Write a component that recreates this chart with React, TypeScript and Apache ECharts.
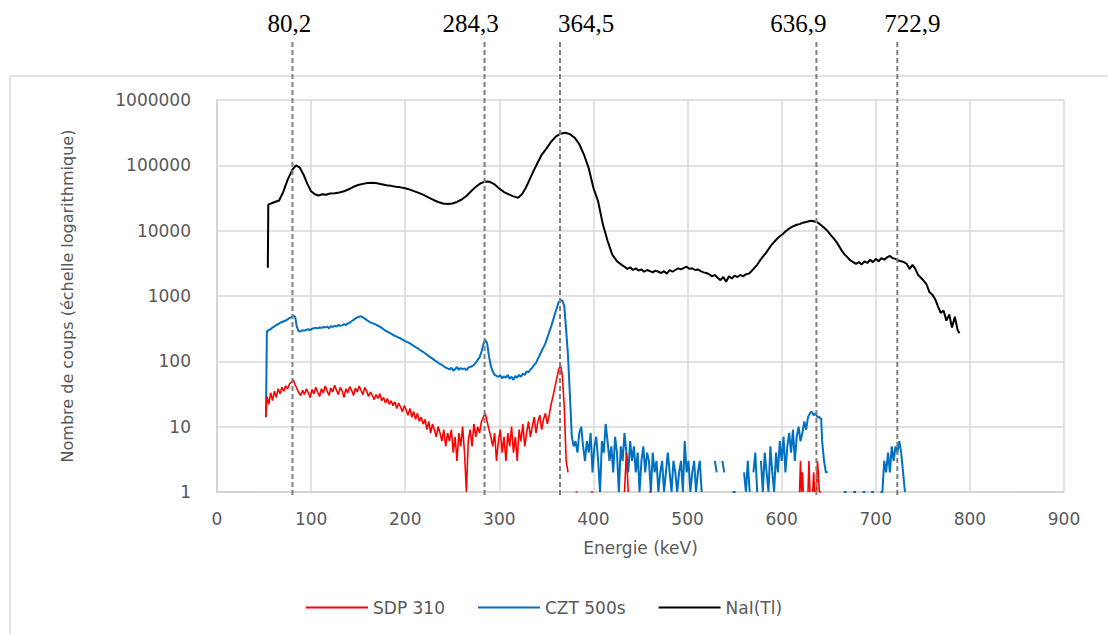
import React, { useEffect, useRef } from "react";
import * as echarts from "echarts";

type Pt = [number, number | null];

// NaI(Tl) spectrum: [energy keV, counts]
const NAI: Pt[] = [
  [54, 2700], [54.5, 25000], [60, 27000], [66, 29000], [70, 38000], [75, 60000], [80, 85000], [84, 100000],
  [88, 92000], [92, 72000], [96, 52000], [100, 40000], [104, 36000], [108, 34500], [112, 36000], [116, 35500],
  [120, 37000], [125, 37500], [130, 38500], [135, 40000], [140, 43000], [145, 47000], [150, 50000], [155, 52000],
  [160, 53500], [165, 54000], [170, 53000], [175, 51500], [180, 49500], [185, 48500], [190, 47000], [195, 46000],
  [200, 44500], [205, 42500], [210, 40000], [215, 37500], [220, 35000], [225, 32000], [230, 29500], [235, 27500],
  [240, 26000], [245, 25500], [250, 26000], [255, 27500], [260, 30000], [265, 34000], [270, 40000], [275, 47000],
  [280, 53000], [285, 56500], [290, 56000], [295, 51000], [300, 44000], [305, 39000], [310, 36000], [315, 33500],
  [320, 32000], [324, 36000], [328, 45000], [332, 60000], [336, 80000], [340, 105000], [345, 145000], [350, 180000],
  [355, 230000], [360, 275000], [365, 305000], [370, 315000], [375, 300000], [380, 265000], [385, 210000],
  [390, 145000], [395, 90000], [400, 45000], [405, 28000], [410, 12500], [415, 7000], [420, 4300], [425, 3400],
  [430, 3000], [433, 2800], [436, 2600], [439, 2750], [442, 2500], [445, 2650], [448, 2450], [451, 2550],
  [454, 2350], [457, 2500], [460, 2400], [463, 2300], [466, 2450], [469, 2350], [472, 2250], [475, 2400],
  [478, 2200], [481, 2500], [484, 2350], [487, 2500], [490, 2650], [493, 2550], [496, 2700], [499, 2800],
  [502, 2600], [505, 2650], [508, 2500], [511, 2550], [514, 2400], [517, 2300], [520, 2250], [523, 2150],
  [526, 2000], [529, 2100], [532, 1900], [535, 1750], [538, 1950], [541, 1650], [544, 2000], [547, 1850],
  [550, 2050], [553, 1950], [556, 2100], [559, 2000], [562, 2150], [565, 2200], [568, 2400], [571, 2700],
  [574, 3000], [577, 3500], [580, 4000], [583, 4500], [586, 5200], [589, 6000], [592, 6700], [595, 7500],
  [598, 8200], [601, 8800], [604, 9700], [607, 10500], [610, 11200], [613, 11800], [616, 12300], [619, 12600],
  [622, 13200], [625, 13500], [628, 13800], [631, 14200], [634, 13900], [637, 13600], [640, 12800], [643, 11800],
  [646, 10800], [649, 9800], [652, 8600], [655, 7700], [658, 6800], [661, 5800], [664, 4900], [667, 4300],
  [670, 3900], [673, 3500], [676, 3300], [679, 3100], [682, 3300], [685, 3050], [688, 3400], [691, 3200],
  [694, 3600], [697, 3300], [700, 3700], [703, 3400], [706, 3800], [709, 3600], [712, 3900], [715, 4100],
  [718, 3800], [721, 3700], [724, 3500], [727, 3400], [730, 3300], [733, 3100], [736, 2600], [739, 3000],
  [742, 2600], [745, 2100], [748, 1900], [751, 1700], [754, 1500], [757, 1150], [760, 1050], [763, 900],
  [766, 700], [769, 550], [772, 600], [775, 420], [778, 520], [781, 330], [784, 480], [787, 300], [789, 270],
];

// CZT 500s spectrum
const CZT: Pt[] = [
  [52, 14], [53, 285], [55, 300], [57, 310], [59, 330], [61, 340], [63, 360], [65, 370], [67, 390], [69, 400],
  [71, 410], [73, 420], [75, 440], [77, 460], [79, 470], [81, 500], [83, 480], [85, 330], [87, 285], [89, 290],
  [91, 300], [93, 295], [95, 305], [97, 310], [99, 300], [101, 315], [103, 320], [105, 325], [107, 320],
  [109, 330], [111, 325], [113, 335], [115, 330], [117, 340], [119, 320], [121, 345], [123, 335], [125, 350],
  [127, 340], [129, 360], [131, 350], [133, 355], [135, 370], [137, 360], [139, 380], [141, 390], [143, 410],
  [145, 430], [147, 450], [149, 470], [151, 480], [153, 490], [155, 470], [157, 450], [159, 430], [161, 410],
  [163, 395], [165, 385], [167, 375], [169, 365], [171, 350], [173, 340], [175, 325], [177, 310], [179, 295],
  [181, 285], [183, 275], [185, 265], [187, 255], [189, 245], [191, 240], [193, 230], [195, 225], [197, 215],
  [199, 208], [201, 200], [203, 195], [205, 188], [207, 180], [209, 172], [211, 165], [213, 160], [215, 152],
  [217, 145], [219, 140], [221, 133], [223, 127], [225, 120], [227, 115], [229, 110], [231, 104], [233, 100],
  [235, 95], [237, 91], [239, 88], [241, 84], [243, 80], [245, 78], [247, 75], [249, 80], [251, 72], [253, 76],
  [255, 82], [257, 74], [259, 79], [261, 76], [263, 78], [265, 73], [267, 80], [269, 82], [271, 84], [273, 88],
  [275, 95], [277, 105], [279, 115], [281, 140], [283, 180], [285, 215], [287, 190], [289, 120], [291, 85],
  [293, 70], [295, 62], [297, 60], [299, 58], [301, 61], [303, 55], [305, 59], [307, 56], [309, 62], [311, 54],
  [313, 58], [315, 52], [317, 60], [319, 56], [321, 62], [323, 58], [325, 65], [327, 62], [329, 70], [331, 68],
  [333, 75], [335, 80], [337, 88], [339, 95], [341, 110], [343, 125], [345, 145], [347, 165], [349, 190],
  [351, 230], [353, 280], [355, 340], [357, 420], [359, 530], [361, 650], [363, 800], [365, 870], [367, 850],
  [369, 700], [371, 300], [373, 120], [375, 30], [377, 7], [379, 5], [381, 6], [383, 4], [385, 8], [387, 10],
  [389, 5], [391, 3], [393, 6], [395, 4], [397, 8], [399, 2], [401, 5], [403, 7], [405, 3], [407, 1], [409, 6],
  [411, 4], [413, 11], [415, 6], [417, 3], [419, 5], [421, 2], [423, 7], [425, 4], [427, 1], [429, 5], [431, 3],
  [433, 8], [435, 4], [437, 2], [439, 6], [441, 3], [443, 5], [445, 2], [447, 4], [449, 1], [451, 3], [453, 5],
  [455, 2], [457, 4], [459, 3], [461, 1], [463, 4], [465, 2], [467, 3], [469, 1], [471, 2], [473, 3], [475, 1],
  [477, 2], [479, 4], [481, 2], [483, 1], [485, 3], [487, 2], [489, 1], [491, 2], [493, 3], [495, 1], [497, 6],
  [499, 2], [501, 3], [503, 1], [505, 2], [507, 3], [509, 1], [511, 2], [513, 3], [515, 1], [517, null],
  [529, 3], [531, 2], [533, null], [537, 3], [539, 2], [541, null], [548, 1], [551, 1], [552, null],
  [560, 2], [562, 1], [564, 3], [566, 1], [568, null], [570, 2], [572, 4], [574, 1], [576, null], [578, 3],
  [580, 1], [582, 4], [584, 2], [586, 1], [588, 5], [590, 2], [592, 1], [594, 4], [596, 2], [598, 6], [600, 3],
  [602, 7], [604, 2], [606, 5], [608, 8], [610, 4], [612, 9], [614, 3], [616, 7], [618, 10], [620, 6], [622, 8],
  [624, 12], [626, 9], [628, 14], [630, 16], [632, 17], [634, 15], [636, 16], [638, 14], [640, 14], [642, 13],
  [643, 6], [645, 3], [647, 2], [649, 2], [650, null], [666, 1], [669, 1], [670, null], [676, 1], [679, 1],
  [680, null], [686, 1], [689, 1], [690, null], [695, 1], [698, 1], [699, null], [705, 1], [707, 1], [709, 3],
  [711, 2], [713, 4], [715, 2], [717, 5], [719, 3], [721, 5], [723, 4], [725, 6], [727, 4], [729, 2], [731, 1],
];

// SDP 310 spectrum
const SDP: Pt[] = [
  [52, 14], [53, 29], [55, 22], [57, 33], [59, 25], [61, 35], [63, 28], [65, 38], [67, 32], [69, 40], [71, 35],
  [73, 42], [75, 38], [77, 45], [79, 48], [81, 52], [83, 44], [85, 38], [87, 33], [89, 30], [91, 36], [93, 31],
  [95, 38], [97, 33], [99, 28], [101, 37], [103, 32], [105, 40], [107, 34], [109, 29], [111, 38], [113, 33],
  [115, 42], [117, 35], [119, 30], [121, 39], [123, 34], [125, 43], [127, 36], [129, 31], [131, 40], [133, 35],
  [135, 28], [137, 38], [139, 33], [141, 41], [143, 36], [145, 30], [147, 39], [149, 34], [151, 42], [153, 36],
  [155, 31], [157, 40], [159, 35], [161, 29], [163, 34], [165, 30], [167, 26], [169, 31], [171, 27], [173, 32],
  [175, 25], [177, 28], [179, 23], [181, 27], [183, 22], [185, 25], [187, 21], [189, 24], [191, 19], [193, 23],
  [195, 20], [197, 17], [199, 21], [201, 18], [203, 15], [205, 19], [207, 14], [209, 17], [211, 13], [213, 16],
  [215, 12], [217, 14], [219, 11], [221, 13], [223, 9], [225, 12], [227, 8], [229, 11], [231, 9], [233, 7],
  [235, 10], [237, 8], [239, 6], [241, 9], [243, 5], [245, 8], [247, 6], [249, 9], [251, 4], [253, 7], [255, 3],
  [257, 8], [259, 5], [261, 10], [263, 4], [265, 1], [267, 6], [269, 9], [271, 5], [273, 11], [275, 7], [277, 10],
  [279, 8], [281, 12], [283, 14], [285, 16], [287, 12], [289, 9], [291, 7], [293, 5], [295, 8], [297, 3], [299, 6],
  [301, 9], [303, 4], [305, 7], [307, 3], [309, 8], [311, 5], [313, 10], [315, 4], [317, 7], [319, 3], [321, 9],
  [323, 6], [325, 11], [327, 5], [329, 8], [331, 12], [333, 7], [335, 10], [337, 14], [339, 8], [341, 12],
  [343, 15], [345, 9], [347, 13], [349, 16], [351, 11], [353, 15], [355, 22], [357, 29], [359, 40], [361, 55],
  [363, 75], [365, 88], [367, 60], [369, 20], [371, 3], [373, 2], [374, null], [381, 1], [383, 1], [384, null],
  [397, 1], [400, 1], [401, null], [433, 1], [435, 4], [437, 1], [438, null], [459, 1], [462, 1], [463, null],
  [619, 1], [620, 3], [621, 1], [622, 2], [623, 1], [624, null], [628, 1], [629, 3], [630, 1], [631, null],
  [633, 1], [634, 2], [635, 1], [636, null], [637, 1], [638, 3], [639, 2], [640, 1], [642, 1],
];

const PEAKS = [80.2, 284.3, 364.5, 636.9, 722.9];
const PEAK_LABELS = ["80,2", "284,3", "364,5", "636,9", "722,9"];
const LABEL_SHIFT = [-3, -14, 26, -18, 15];

const SERIES_NAMES = ["SDP 310", "CZT 500s", "NaI(Tl)"];
const SERIES_COLORS = ["#ff0000", "#0070c0", "#000000"];
const X_TICKS = { min: 0, max: 900, interval: 100 };
const Y_RANGE = { min: 1, max: 1000000 };

const toData = (arr: Pt[]) => arr.map(([x, y]) => (y === null ? [x, "-"] : [x, y]));

const FONT = "DejaVu Sans";
const GRAY = "#595959";

export default function App() {
  const ref = useRef<HTMLDivElement>(null);
  useEffect(() => {
    if (!ref.current) return;
    const chart = echarts.init(ref.current, undefined, { renderer: "svg" });
    const datasets = [SDP, CZT, NAI];
    chart.setOption({
      animation: false,
      backgroundColor: "#ffffff",
      grid: { left: 217, right: 44, top: 100, bottom: 142 },
      xAxis: {
        type: "value",
        min: X_TICKS.min,
        max: X_TICKS.max,
        interval: X_TICKS.interval,
        name: "Energie (keV)",
        nameLocation: "middle",
        nameGap: 47,
        nameTextStyle: { color: GRAY, fontFamily: FONT, fontSize: 17 },
        axisLine: { show: true, lineStyle: { color: "#d0d0d0", width: 1.5 } },
        axisTick: { show: false },
        axisLabel: { color: GRAY, fontFamily: FONT, fontSize: 17, margin: 18 },
        splitLine: { show: true, lineStyle: { color: "#d9d9d9", width: 1.5 } },
      },
      yAxis: {
        type: "log",
        logBase: 10,
        min: Y_RANGE.min,
        max: Y_RANGE.max,
        name: "Nombre de coups (échelle logarithmique)",
        nameLocation: "middle",
        nameGap: 142,
        nameTextStyle: { color: GRAY, fontFamily: FONT, fontSize: 16 },
        axisLine: { show: true, lineStyle: { color: "#d0d0d0", width: 1.5 } },
        axisTick: { show: false },
        axisLabel: {
          color: GRAY,
          fontFamily: FONT,
          fontSize: 17,
          margin: 26,
          formatter: (v: number) => String(Math.round(v)),
        },
        splitLine: { show: true, lineStyle: { color: "#d9d9d9", width: 1.5 } },
      },
      legend: {
        left: 301,
        top: 594,
        itemWidth: 62,
        itemHeight: 2,
        itemGap: 33,
        textStyle: { color: GRAY, fontFamily: FONT, fontSize: 17 },
        data: SERIES_NAMES.map((n) => ({ name: n, icon: "rect" })),
      },
      series: datasets.map((d, i) => ({
        name: SERIES_NAMES[i],
        type: "line",
        data: toData(d),
        showSymbol: false,
        symbol: "none",
        connectNulls: false,
        z: 3 - i,
        lineStyle: { color: SERIES_COLORS[i], width: i === 0 ? 1.6 : 2 },
        itemStyle: { color: SERIES_COLORS[i] },
      })),
    });

    const yBottom = chart.convertToPixel({ yAxisIndex: 0 }, Y_RANGE.min) as number;
    const graphics: any[] = [
      {
        type: "rect",
        shape: { x: 10, y: 76, width: 1200, height: 700 },
        style: { fill: "none", stroke: "#d9d9d9", lineWidth: 1.5 },
        silent: true,
        z: 0,
      },
    ];
    PEAKS.forEach((e, i) => {
      const px = chart.convertToPixel({ xAxisIndex: 0 }, e) as number;
      graphics.push({
        type: "line",
        shape: { x1: px, y1: 42, x2: px, y2: yBottom + 3 },
        style: { stroke: "#7f7f7f", lineWidth: 2, lineDash: [5, 3] },
        silent: true,
        z: 10,
      });
      graphics.push({
        type: "text",
        x: px + LABEL_SHIFT[i],
        y: 23,
        style: {
          text: PEAK_LABELS[i],
          font: '25px "Liberation Serif"',
          fill: "#000000",
          textAlign: "center",
          textVerticalAlign: "middle",
        },
        silent: true,
        z: 10,
      });
    });
    chart.setOption({ graphic: graphics });

    return () => chart.dispose();
  }, []);

  return (
    <div
      ref={ref}
      style={{ position: "fixed", left: 0, top: 0, width: 1108, height: 634, background: "#fff" }}
    />
  );
}
